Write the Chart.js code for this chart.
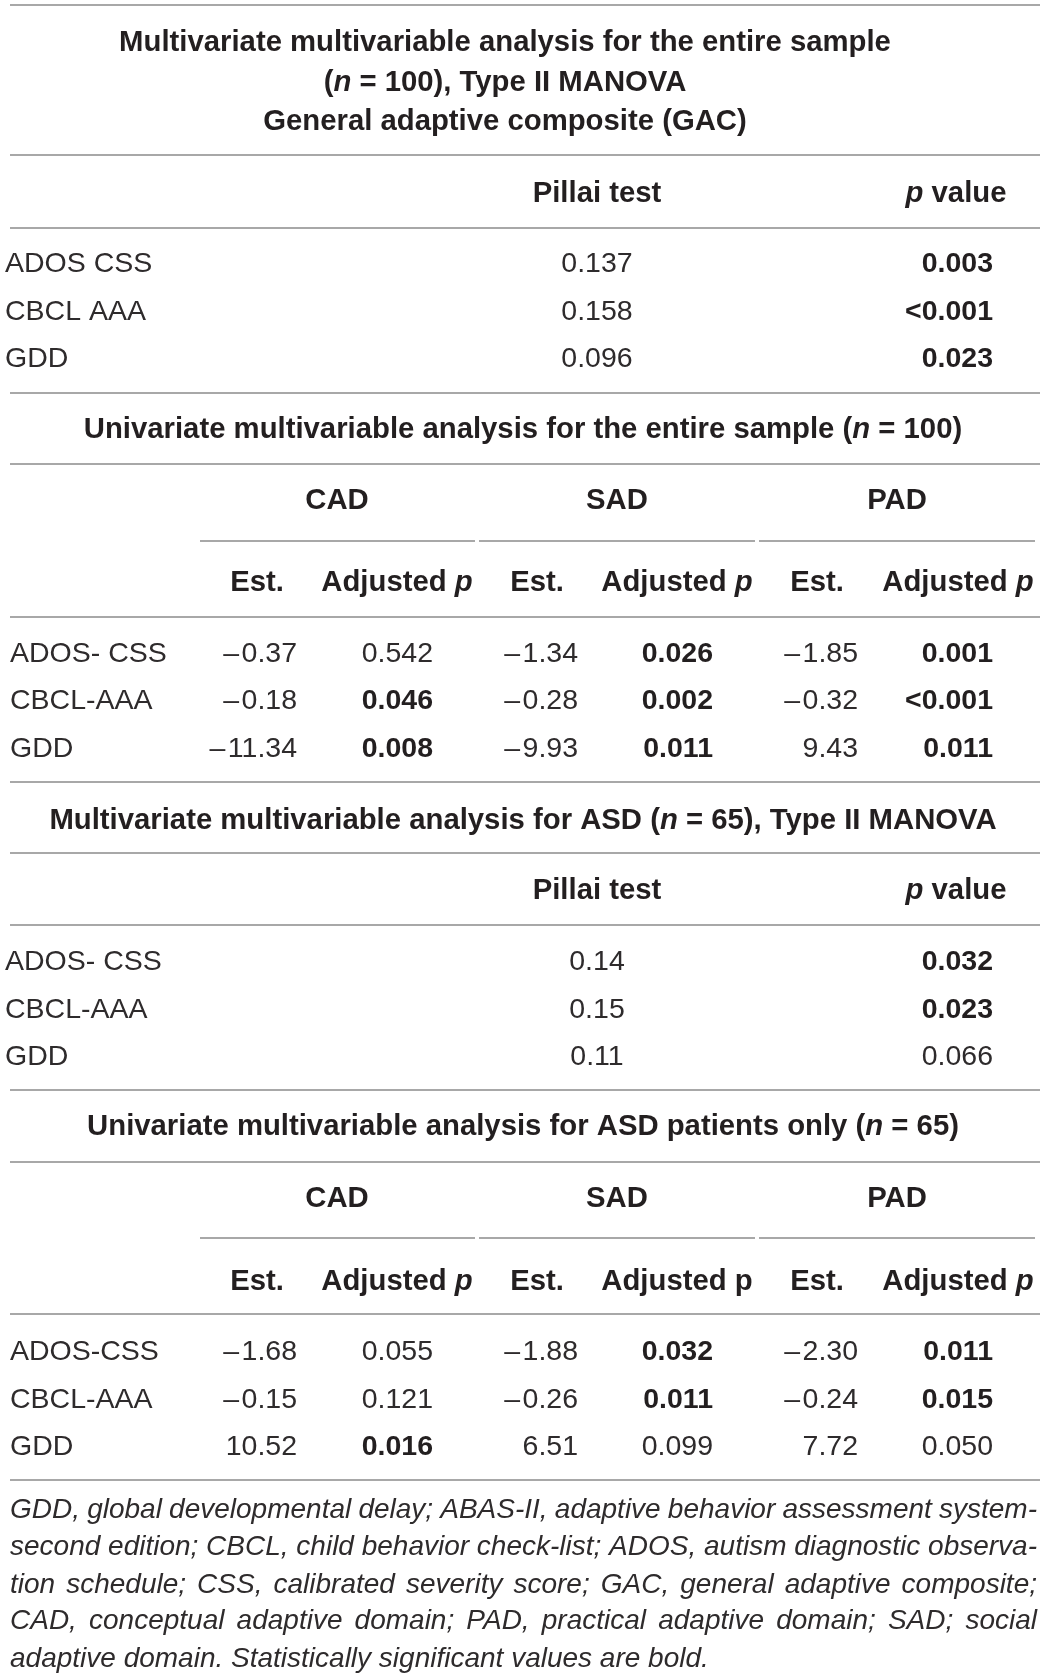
<!DOCTYPE html>
<html><head><meta charset="utf-8">
<script src="https://cdn.jsdelivr.net/npm/chart.js@4.4.1/dist/chart.umd.min.js"></script>
<style>
html,body{margin:0;padding:0;background:#fff;}
#wrap{position:relative;width:1044px;height:1678px;}
</style>
</head><body>
<div id="wrap"><canvas id="c"></canvas></div>
<script>
// ---------------- DATA ----------------
const predictorsAll = ['ADOS CSS', 'CBCL AAA', 'GDD'];
const pillaiAll = ['0.137', '0.158', '0.096'];
const pillaiPAll = ['0.003', '<0.001', '0.023'];

const predictorsUniAll = ['ADOS- CSS', 'CBCL-AAA', 'GDD'];
const domains = ['CAD', 'SAD', 'PAD'];
const estAllCAD = [-0.37, -0.18, -11.34];
const pAllCAD = ['0.542', '0.046', '0.008'];
const estAllSAD = [-1.34, -0.28, -9.93];
const pAllSAD = ['0.026', '0.002', '0.011'];
const estAllPAD = [-1.85, -0.32, 9.43];
const pAllPAD = ['0.001', '<0.001', '0.011'];

const predictorsASD = ['ADOS- CSS', 'CBCL-AAA', 'GDD'];
const pillaiASD = ['0.14', '0.15', '0.11'];
const pillaiPASD = ['0.032', '0.023', '0.066'];

const predictorsUniASD = ['ADOS-CSS', 'CBCL-AAA', 'GDD'];
const estASDCAD = [-1.68, -0.15, 10.52];
const pASDCAD = ['0.055', '0.121', '0.016'];
const estASDSAD = [-1.88, -0.26, 6.51];
const pASDSAD = ['0.032', '0.011', '0.099'];
const estASDPAD = [-2.30, -0.24, 7.72];
const pASDPAD = ['0.011', '0.015', '0.050'];

const titleAll = ['Multivariate multivariable analysis for the entire sample', '(_n_ = 100), Type II MANOVA', 'General adaptive composite (GAC)'];
const titleUniAll = 'Univariate multivariable analysis for the entire sample (_n_ = 100)';
const titleASD = 'Multivariate multivariable analysis for ASD (_n_ = 65), Type II MANOVA';
const titleUniASD = 'Univariate multivariable analysis for ASD patients only (_n_ = 65)';
const multiHeaders = ['Pillai test', '_p_ value'];
const uniHeadersAll = ['Est.', 'Adjusted _p_', 'Est.', 'Adjusted _p_', 'Est.', 'Adjusted _p_'];
const uniHeadersASD = ['Est.', 'Adjusted _p_', 'Est.', 'Adjusted p', 'Est.', 'Adjusted _p_'];
const footnoteLines = [
  'GDD, global developmental delay; ABAS-II, adaptive behavior assessment system-',
  'second edition; CBCL, child behavior check-list; ADOS, autism diagnostic observa-',
  'tion schedule; CSS, calibrated severity score; GAC, general adaptive composite;',
  'CAD, conceptual adaptive domain; PAD, practical adaptive domain; SAD; social',
  'adaptive domain. Statistically significant values are bold.'
];
const ALPHA = 0.05;

// ---------------- LAYOUT / STYLE ----------------
const W = 1044, H = 1678;
const FONT = '"Liberation Sans", Arial, Helvetica, sans-serif';
const TXT = '#231f20';
const TXT_LIGHT = '#2e2b2c';
const RULE = '#a8a8a8';
const SZ = 28.5, SZB = 29.3, SZF = 28;
const L = {
  full: [10, 1040],
  groups: [[200, 475], [479, 755], [759, 1035]],
  multi: { pillai: 597, pRight: 993, pHead: 956 },
  uni: { grpC: [337, 617, 897], estR: [297, 578, 858], estH: [257, 537, 817], pR: [433, 713, 993], pH: [397, 677, 958] },
  s1: { titleX: 505, titles: [41, 81, 120], rules: [5, 155, 228, 393], head: 192, rows: [262, 310, 357], labelX: 5 },
  s2: { titleX: 523, title: 428, rules: [464, 617, 782], grpRule: 541, grpHead: 499, sub: 581, rows: [652, 699, 747], labelX: 10 },
  s3: { titleX: 523, title: 819, rules: [853, 925, 1090], head: 889, rows: [960, 1008, 1055], labelX: 5 },
  s4: { titleX: 523, title: 1125, rules: [1162, 1314, 1480], grpRule: 1238, grpHead: 1197, sub: 1280, rows: [1350, 1398, 1445], labelX: 10 },
  foot: { x0: 10, x1: 1037, ys: [1508, 1545, 1583, 1619, 1657] }
};

// ---------------- BUILD CELLS ----------------
const pNum = s => s.startsWith('<') ? parseFloat(s.slice(1)) - 1e-9 : parseFloat(s);
const fmtEst = v => (v < 0 ? '\u2013\u200A' : '') + Math.abs(v).toFixed(2);
const cells = [];
function cell(x, y, text, o) { cells.push(Object.assign({ x, y, text, align: 'left', weight: 'normal', size: SZ, italic: false }, o || {})); }
const rules = [];
function rule(x0, x1, y) { rules.push({ x0, x1, y }); }

// Section 1
L.s1.titles.forEach((y, i) => cell(L.s1.titleX, y, titleAll[i], { align: 'center', weight: 'bold', size: SZB }));
L.s1.rules.forEach(y => rule(L.full[0], L.full[1], y));
cell(L.multi.pillai, L.s1.head, multiHeaders[0], { align: 'center', weight: 'bold', size: SZB });
cell(L.multi.pHead, L.s1.head, multiHeaders[1], { align: 'center', weight: 'bold', size: SZB });
predictorsAll.forEach((p, i) => {
  const y = L.s1.rows[i];
  cell(L.s1.labelX, y, p);
  cell(L.multi.pillai, y, pillaiAll[i], { align: 'center' });
  cell(L.multi.pRight, y, pillaiPAll[i], { align: 'right', weight: pNum(pillaiPAll[i]) < ALPHA ? 'bold' : 'normal' });
});

// Univariate helper
function uniSection(S, title, labels, heads, ests, ps) {
  cell(S.titleX, S.title, title, { align: 'center', weight: 'bold', size: SZB });
  S.rules.forEach(y => rule(L.full[0], L.full[1], y));
  L.groups.forEach(g => rule(g[0], g[1], S.grpRule));
  domains.forEach((d, k) => cell(L.uni.grpC[k], S.grpHead, d, { align: 'center', weight: 'bold', size: SZB }));
  for (let k = 0; k < 3; k++) {
    cell(L.uni.estH[k], S.sub, heads[2 * k], { align: 'center', weight: 'bold', size: SZB });
    cell(L.uni.pH[k], S.sub, heads[2 * k + 1], { align: 'center', weight: 'bold', size: SZB });
  }
  labels.forEach((lab, i) => {
    const y = S.rows[i];
    cell(S.labelX, y, lab);
    for (let k = 0; k < 3; k++) {
      cell(L.uni.estR[k], y, fmtEst(ests[k][i]), { align: 'right' });
      cell(L.uni.pR[k], y, ps[k][i], { align: 'right', weight: pNum(ps[k][i]) < ALPHA ? 'bold' : 'normal' });
    }
  });
}
uniSection(L.s2, titleUniAll, predictorsUniAll, uniHeadersAll, [estAllCAD, estAllSAD, estAllPAD], [pAllCAD, pAllSAD, pAllPAD]);

// Section 3
cell(L.s3.titleX, L.s3.title, titleASD, { align: 'center', weight: 'bold', size: SZB });
L.s3.rules.forEach(y => rule(L.full[0], L.full[1], y));
cell(L.multi.pillai, L.s3.head, multiHeaders[0], { align: 'center', weight: 'bold', size: SZB });
cell(L.multi.pHead, L.s3.head, multiHeaders[1], { align: 'center', weight: 'bold', size: SZB });
predictorsASD.forEach((p, i) => {
  const y = L.s3.rows[i];
  cell(L.s3.labelX, y, p);
  cell(L.multi.pillai, y, pillaiASD[i], { align: 'center' });
  cell(L.multi.pRight, y, pillaiPASD[i], { align: 'right', weight: pNum(pillaiPASD[i]) < ALPHA ? 'bold' : 'normal' });
});

uniSection(L.s4, titleUniASD, predictorsUniASD, uniHeadersASD, [estASDCAD, estASDSAD, estASDPAD], [pASDCAD, pASDSAD, pASDPAD]);

// Footnote
footnoteLines.forEach((t, i) => cell(L.foot.x0, L.foot.ys[i], t, { italic: true, size: SZF, justify: i < footnoteLines.length - 1 ? L.foot.x1 : null }));

// ---------------- DRAW ----------------
function fontStr(it, weight, size) { return (it ? 'italic ' : '') + weight + ' ' + size + 'px ' + FONT; }
function drawRich(ctx, c, px, py, sx) {
  const base = py + 0.358 * c.size;
  ctx.fillStyle = c.weight === 'bold' ? TXT : TXT_LIGHT;
  ctx.textAlign = 'left';
  ctx.textBaseline = 'alphabetic';
  if (c.justify != null) {
    const words = c.text.split(' ');
    ctx.font = fontStr(true, c.weight, c.size);
    const ws = words.map(w => ctx.measureText(w).width);
    const tot = ws.reduce((a, b) => a + b, 0);
    const span = sx(c.justify) - px;
    const minGap = ctx.measureText(' ').width * 0.6;
    const gap = Math.max(minGap, (span - tot) / (words.length - 1));
    let cx = px;
    words.forEach((w, i) => { ctx.fillText(w, cx, base); cx += ws[i] + gap; });
    return;
  }
  const segs = c.text.split('_').map((t, i) => ({ t, it: c.italic || i % 2 === 1 })).filter(s => s.t);
  let total = 0;
  segs.forEach(s => { ctx.font = fontStr(s.it, c.weight, c.size); s.w = ctx.measureText(s.t).width; total += s.w; });
  let cx = c.align === 'center' ? px - total / 2 : c.align === 'right' ? px - total : px;
  segs.forEach(s => { ctx.font = fontStr(s.it, c.weight, c.size); ctx.fillText(s.t, cx, base); cx += s.w; });
}

const textPlugin = {
  id: 'tableText',
  afterDatasetsDraw(chart) {
    const ctx = chart.ctx;
    const sx = v => chart.scales.x.getPixelForValue(v);
    const meta = chart.getDatasetMeta(0);
    ctx.save();
    meta.data.forEach((el, i) => drawRich(ctx, cells[i], el.x, el.y, sx));
    ctx.restore();
  }
};

const ruleDatasets = rules.map(r => ({
  type: 'line',
  data: [{ x: r.x0, y: r.y }, { x: r.x1, y: r.y }],
  borderColor: RULE, borderWidth: 2, pointRadius: 0, fill: false, tension: 0
}));

new Chart(document.getElementById('c'), {
  type: 'scatter',
  data: {
    datasets: [
      { data: cells.map(c => ({ x: c.x, y: c.y })), pointRadius: 0, pointHoverRadius: 0, backgroundColor: 'rgba(0,0,0,0)' },
      ...ruleDatasets
    ]
  },
  options: {
    responsive: true, maintainAspectRatio: false, animation: false,
    layout: { padding: 0 },
    plugins: { legend: { display: false }, tooltip: { enabled: false } },
    events: [],
    scales: {
      x: { type: 'linear', min: 0, max: W, display: false },
      y: { type: 'linear', min: 0, max: H, reverse: true, display: false }
    }
  },
  plugins: [textPlugin]
});
</script>
</body></html>
